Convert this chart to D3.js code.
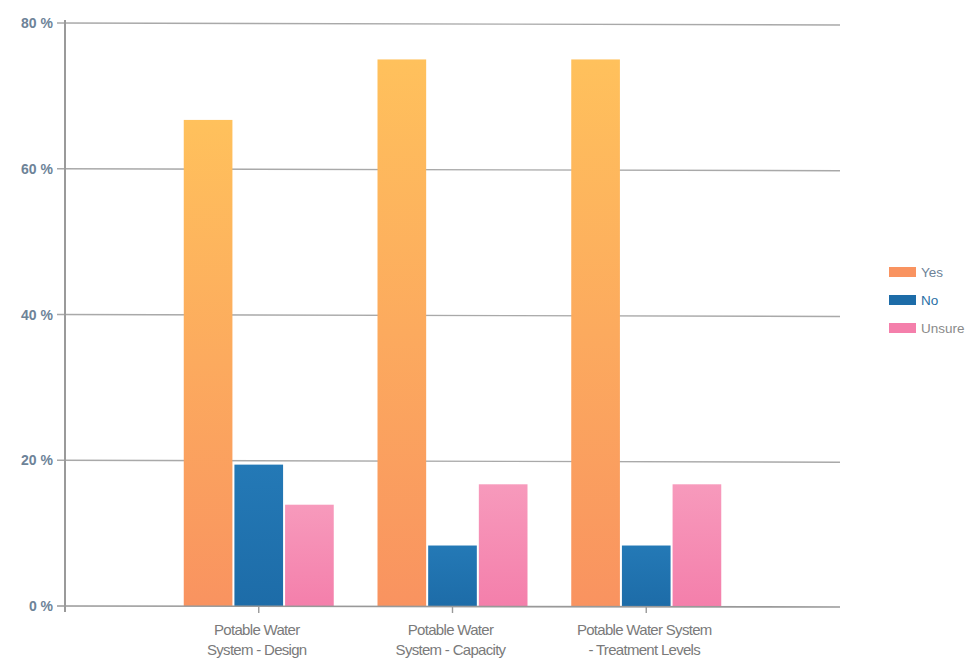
<!DOCTYPE html>
<html>
<head>
<meta charset="utf-8">
<script src="https://cdn.jsdelivr.net/npm/d3@7/dist/d3.min.js"></script>
<style>
  html, body { margin: 0; padding: 0; background: #fff; }
  svg { display: block; font-family: "Liberation Sans", Arial, sans-serif; }
</style>
</head>
<body>
<svg id="chart" width="976" height="660"></svg>
<script>
// Survey answers per potable water topic (percent of respondents)
const categories = [
  ["Potable Water", "System - Design"],
  ["Potable Water", "System - Capacity"],
  ["Potable Water System", "- Treatment Levels"]
];
const seriesNames = ["Yes", "No", "Unsure"];
const yesValues = [66.7, 75.0, 75.0];
const noValues = [19.4, 8.3, 8.3];
const unsureValues = [13.9, 16.7, 16.7];
const yTicks = [0, 20, 40, 60, 80];

const series = [yesValues, noValues, unsureValues];

const svg = d3.select("#chart");
const margin = { left: 65, right: 136, top: 23, bottom: 54 };
const W = 976, H = 660;

const y = d3.scaleLinear().domain([0, 80]).range([H - margin.bottom, margin.top]);
// group centres sit at positions 1..3 of a 0..4 axis
const xPos = d3.scaleLinear().domain([0, 4]).range([margin.left, W - margin.right]);
const inner = d3.scaleBand().domain(seriesNames).range([-76, 76]).paddingInner(0.0);

const defs = svg.append("defs");
const grads = {
  Yes: ["#ffc15c", "#f99360"],
  No: ["#2479b6", "#1d6ca8"],
  Unsure: ["#f79abc", "#f47fab"]
};
Object.entries(grads).forEach(([k, c]) => {
  const g = defs.append("linearGradient").attr("id", "g-" + k)
    .attr("x1", 0).attr("y1", 0).attr("x2", 0).attr("y2", 1);
  g.append("stop").attr("offset", "0%").attr("stop-color", c[0]);
  g.append("stop").attr("offset", "100%").attr("stop-color", c[1]);
});

// horizontal grid lines
svg.append("g").selectAll("line").data(yTicks.filter(d => d > 0)).join("line")
  .attr("x1", margin.left - 8).attr("x2", W - margin.right)
  .attr("y1", d => y(d)).attr("y2", d => y(d) + 2)
  .attr("stroke", "#a9a9a9").attr("stroke-width", 1.4);

// bars
const groups = svg.append("g").selectAll("g").data(categories).join("g")
  .attr("transform", (d, i) => `translate(${xPos(i + 1)},0)`);
groups.selectAll("rect").data((d, i) => seriesNames.map((s, j) => ({ s, v: series[j][i] })))
  .join("rect")
  .attr("x", d => inner(d.s) + 1)
  .attr("width", inner.bandwidth() - 2)
  .attr("y", d => y(d.v))
  .attr("height", d => y(0) - y(d.v))
  .attr("fill", d => `url(#g-${d.s})`);

// baseline with ticks under each group
svg.append("line")
  .attr("x1", margin.left - 8).attr("x2", W - margin.right)
  .attr("y1", y(0)).attr("y2", y(0) + 1)
  .attr("stroke", "#999").attr("stroke-width", 1.6);
svg.append("g").selectAll("line").data(categories).join("line")
  .attr("x1", (d, i) => xPos(i + 1)).attr("x2", (d, i) => xPos(i + 1))
  .attr("y1", y(0)).attr("y2", y(0) + 7)
  .attr("stroke", "#999").attr("stroke-width", 1.4);

// y axis line and labels
svg.append("line")
  .attr("x1", margin.left).attr("x2", margin.left)
  .attr("y1", y(80) - 3).attr("y2", y(0) + 6)
  .attr("stroke", "#9a9a9a").attr("stroke-width", 2);
svg.append("g").selectAll("text").data(yTicks).join("text")
  .attr("x", margin.left - 12).attr("y", d => y(d) + 5)
  .attr("text-anchor", "end")
  .attr("font-size", 14).attr("font-weight", "bold")
  .attr("fill", "#6d8398")
  .text(d => d + " %");

// category labels
const xl = svg.append("g").selectAll("text").data(categories).join("text")
  .attr("text-anchor", "middle")
  .attr("font-size", 15)
  .attr("fill", "#7a7a7a")
  .attr("letter-spacing", -0.7)
  .attr("transform", (d, i) => `translate(${xPos(i + 1) - 2},${H - margin.bottom + 29})`);
xl.selectAll("tspan").data(d => d).join("tspan")
  .attr("x", 0).attr("dy", (d, i) => i ? 20 : 0)
  .text(d => d);

// legend
const legend = svg.append("g").attr("transform", "translate(889,267)");
const lg = legend.selectAll("g").data(seriesNames).join("g")
  .attr("transform", (d, i) => `translate(0,${i * 28})`);
lg.append("rect").attr("width", 27).attr("height", 10)
  .attr("fill", d => grads[d][1]);
lg.append("text").attr("x", 32).attr("y", 10)
  .attr("font-size", 13.5)
  .attr("fill", (d, i) => ["#6d8398", "#2a6fa5", "#8a8a8a"][i])
  .text(d => d);
</script>
</body>
</html>
